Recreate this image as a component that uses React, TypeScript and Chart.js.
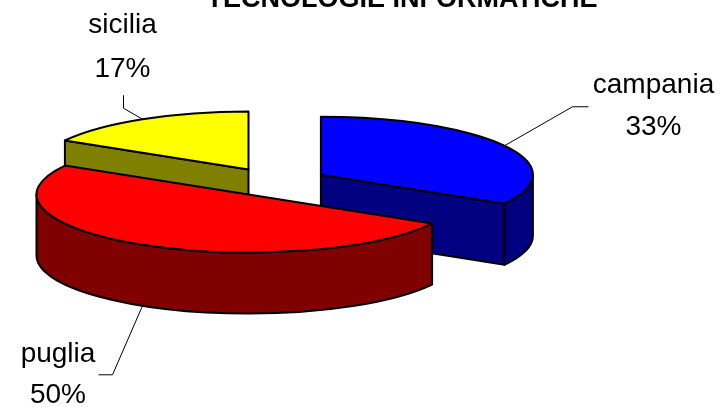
import React, { useEffect, useRef } from 'react';
import { Chart, registerables } from 'chart.js';

Chart.register(...registerables);

// ---- data ----
const categories = ['campania', 'puglia', 'sicilia'];
const values = [2, 3, 1];
const titleText = 'TECNOLOGIE INFORMATICHE';

// ---- styles ----
const topColors = ['#0000FF', '#FF0000', '#FFFF00'];
const sideColors = ['#000080', '#800000', '#808000'];

// label layout, relative to the leader anchor on each slice
const labelLayout = [
  { elbow: [68, -39], end: [84, -39], text: [149, -53, -11] },
  { elbow: [-30, 69], end: [-44, 69], text: [-84.5, 56, 97] },
  { elbow: [-19, -11], end: [-19, -24], text: [-20, -86, -42] },
];

const X_STRETCH = 212 / 58;
const DEPTH = 61 / 58;
const EXPLODE = 0.25;
const FONT = "'Liberation Sans', Arial, sans-serif";

const pie3d = {
  id: 'pie3d',
  beforeDatasetsDraw(chart: any) {
    const ctx = chart.ctx as CanvasRenderingContext2D;
    const meta = chart.getDatasetMeta(0);
    const arcs = meta.data as any[];
    if (!arcs.length) return false;
    const R = arcs[0].outerRadius;
    const cx0 = arcs[0].x;
    const cy0 = arcs[0].y;
    const A = R * X_STRETCH;
    const B = R;
    const D = R * DEPTH;
    const total = values.reduce((a, b) => a + b, 0);

    const slices = arcs.map((arc, i) => {
      const s = arc.startAngle;
      const t = arc.endAngle;
      const m = (s + t) / 2;
      return {
        i, s, t, m,
        cx: cx0 + EXPLODE * A * Math.cos(m),
        cy: cy0 + EXPLODE * B * Math.sin(m),
      };
    });
    const order = [...slices].sort((p, q) => Math.sin(p.m) - Math.sin(q.m));

    ctx.save();
    ctx.lineWidth = 2;
    ctx.strokeStyle = '#000';
    ctx.lineJoin = 'round';

    for (const sl of order) {
      const { cx, cy, s, t, i } = sl;
      const px = (a: number) => cx + A * Math.cos(a);
      const py = (a: number) => cy + B * Math.sin(a);
      const quad = (a: number) => {
        ctx.beginPath();
        ctx.moveTo(cx, cy);
        ctx.lineTo(px(a), py(a));
        ctx.lineTo(px(a), py(a) + D);
        ctx.lineTo(cx, cy + D);
        ctx.closePath();
        ctx.fillStyle = sideColors[i];
        ctx.fill();
        ctx.stroke();
      };
      if (Math.cos(s) < -1e-6) quad(s);
      if (Math.cos(t) > 1e-6) quad(t);
      for (let k = -1; k <= 1; k++) {
        const lo = Math.max(s, 2 * Math.PI * k);
        const hi = Math.min(t, 2 * Math.PI * k + Math.PI);
        if (hi > lo + 1e-6) {
          ctx.beginPath();
          ctx.ellipse(cx, cy, A, B, 0, lo, hi, false);
          ctx.lineTo(px(hi), py(hi) + D);
          ctx.ellipse(cx, cy + D, A, B, 0, hi, lo, true);
          ctx.closePath();
          ctx.fillStyle = sideColors[i];
          ctx.fill();
          ctx.stroke();
        }
      }
      ctx.beginPath();
      ctx.moveTo(cx, cy);
      ctx.ellipse(cx, cy, A, B, 0, s, t, false);
      ctx.closePath();
      ctx.fillStyle = topColors[i];
      ctx.fill();
      ctx.stroke();
    }

    // labels with leader lines
    ctx.lineWidth = 1;
    ctx.font = `28px ${FONT}`;
    ctx.fillStyle = '#000';
    ctx.textAlign = 'center';
    ctx.textBaseline = 'alphabetic';
    for (const sl of slices) {
      const { cx, cy, m, i } = sl;
      const ax = cx + A * Math.cos(m);
      const ay = cy + B * Math.sin(m) + (Math.sin(m) > 0 ? D : 0);
      const L = labelLayout[i];
      ctx.beginPath();
      ctx.moveTo(ax, ay);
      ctx.lineTo(ax + L.elbow[0], ay + L.elbow[1]);
      ctx.lineTo(ax + L.end[0], ay + L.end[1]);
      ctx.stroke();
      const pct = Math.round((values[i] / total) * 100) + '%';
      ctx.fillText(categories[i], ax + L.text[0], ay + L.text[1]);
      ctx.fillText(pct, ax + L.text[0], ay + L.text[2]);
    }

    // title
    ctx.font = `bold 27px ${FONT}`;
    ctx.fillText(titleText, 402, 7);
    ctx.restore();
    return false;
  },
};

export default function App() {
  const ref = useRef<HTMLCanvasElement | null>(null);
  useEffect(() => {
    if (!ref.current) return;
    const chart = new Chart(ref.current, {
      type: 'pie',
      data: {
        labels: categories,
        datasets: [
          {
            data: values,
            backgroundColor: topColors,
            borderWidth: 0,
            hoverOffset: 0,
            offset: 0,
          },
        ],
      },
      options: {
        responsive: false,
        animation: false,
        events: [],
        layout: { padding: { left: 63, right: 238, top: 124, bottom: 167 } },
        plugins: { legend: { display: false }, tooltip: { enabled: false }, title: { display: false } },
      },
      plugins: [pie3d],
    } as any);
    return () => chart.destroy();
  }, []);
  return (
    <div style={{ position: 'absolute', left: 0, top: 0, width: 725, height: 407, background: '#fff' }}>
      <canvas ref={ref} width={725} height={407} />
    </div>
  );
}
